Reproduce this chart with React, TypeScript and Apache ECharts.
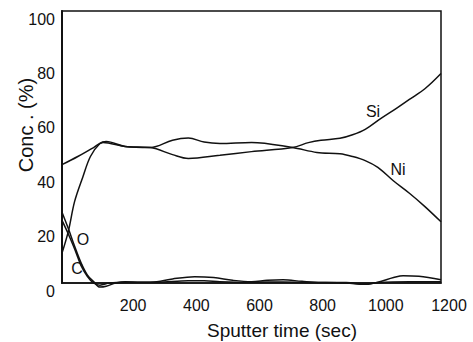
import React, { useEffect, useRef } from "react";
import * as echarts from "echarts";

// Sputter time (sec) -> concentration (%)
const siTime = [0, 50, 100, 130, 200, 280, 350, 400, 500, 600, 730, 780, 820, 880, 920, 960, 1010, 1060, 1100, 1150, 1200];
const siConc = [43.5, 46.5, 49.8, 51.7, 50.2, 49.8, 47.2, 45.8, 47, 48.3, 49.8, 51.6, 52.5, 53.2, 54.5, 56.5, 60.5, 64.3, 67.5, 71.5, 77];

const niTime = [0, 20, 40, 66, 90, 120, 140, 200, 280, 350, 400, 450, 500, 600, 730, 807, 880, 920, 960, 1000, 1050, 1100, 1150, 1200];
const niConc = [11, 19, 30, 39, 46.5, 51.3, 52, 50.2, 49.8, 52.5, 53.3, 51.8, 51.3, 51.7, 49.8, 48, 47.5, 46.5, 45, 42.5, 37.5, 33, 28, 22.5];

const oTime = [0, 20, 40, 60, 80, 100, 120, 140, 170, 200, 250, 300, 350, 420, 480, 540, 600, 650, 700, 760, 820, 900, 960, 1000, 1050, 1080, 1130, 1200];
const oConc = [26, 20, 13.5, 7.5, 3, 0.5, -1.5, -1.2, 0, 0.5, 0.3, 0.5, 1.5, 2.3, 2, 1, 0.5, 1, 1.2, 0.6, 0.2, 0.2, -0.5, 0.3, 2, 2.7, 2.5, 1.2];

const cTime = [0, 20, 40, 60, 80, 100, 120, 150, 200, 300, 400, 450, 500, 600, 700, 800, 900, 960, 1000, 1100, 1200];
const cConc = [23, 18, 12.5, 6.5, 2.5, 0, -0.8, 0, 0.3, 0.3, 0.8, 0.8, 0.5, 0.3, 0.4, 0.2, 0, -0.5, 0.2, 0.5, 0.5];

const xTicks = { min: 0, max: 1200, interval: 200 };
const yTicks = { min: 0, max: 100, interval: 20 };

const xTitle = "Sputter time (sec)";
const yTitle = "Conc . (%)";
const seriesNames = ["Si", "Ni", "O", "C"];

const FONT = "'Liberation Sans', Arial, sans-serif";

function pairs(t: number[], v: number[]) {
  return t.map((x, i) => [x, v[i]]);
}

export default function App() {
  const ref = useRef<HTMLDivElement>(null);
  useEffect(() => {
    if (!ref.current) return;
    const chart = echarts.init(ref.current, undefined, { renderer: "svg" });
    const lineStyle = { color: "#111", width: 1.5 };
    const mk = (name: string, data: number[][]) => ({
      name,
      type: "line",
      data,
      smooth: 0.35,
      showSymbol: false,
      symbol: "none",
      clip: false,
      lineStyle,
      z: 3,
    });
    chart.setOption({
      animation: false,
      backgroundColor: "#fff",
      grid: {
        left: 62,
        right: 32,
        top: 11,
        bottom: 59,
        containLabel: false,
        outerBoundsMode: "none",
        show: true,
        borderColor: "#111",
        borderWidth: 1.5,
        backgroundColor: "transparent",
      },
      xAxis: {
        type: "value",
        min: xTicks.min,
        max: xTicks.max,
        interval: xTicks.interval,
        splitLine: { show: false },
        axisTick: { show: false },
        axisLine: { show: true, lineStyle: { color: "#111", width: 1.5 } },
        axisLabel: {
          showMinLabel: false,
          color: "#111",
          fontFamily: FONT,
          fontSize: 16,
          margin: 14,
          padding: [0, 0, 0, 16],
          formatter: (v: number) => String(v),
        },
      },
      yAxis: {
        type: "value",
        min: yTicks.min,
        max: yTicks.max,
        interval: yTicks.interval,
        splitLine: { show: false },
        axisTick: { show: false },
        axisLine: { show: true, lineStyle: { color: "#111", width: 2 } },
        axisLabel: {
          color: "#111",
          fontFamily: FONT,
          fontSize: 16,
          margin: 7,
          verticalAlign: "top",
          formatter: (v: number) => String(v),
        },
      },
      series: [
        mk(seriesNames[0], pairs(siTime, siConc)),
        mk(seriesNames[1], pairs(niTime, niConc)),
        mk(seriesNames[2], pairs(oTime, oConc)),
        mk(seriesNames[3], pairs(cTime, cConc)),
      ],
      graphic: [
        {
          type: "text",
          x: 282,
          y: 330,
          style: { text: xTitle, font: `19px ${FONT}`, fill: "#111", align: "center", verticalAlign: "middle" },
        },
        {
          type: "text",
          x: 26,
          y: 125,
          rotation: Math.PI / 2,
          style: { text: yTitle, font: `20px ${FONT}`, fill: "#111", align: "center", verticalAlign: "middle" },
        },
        {
          type: "text",
          x: 373,
          y: 111,
          style: { text: seriesNames[0], font: `16px ${FONT}`, fill: "#111", align: "center", verticalAlign: "middle" },
        },
        {
          type: "text",
          x: 398,
          y: 169,
          style: { text: seriesNames[1], font: `16px ${FONT}`, fill: "#111", align: "center", verticalAlign: "middle" },
        },
        {
          type: "text",
          x: 83,
          y: 239,
          style: { text: seriesNames[2], font: `16px ${FONT}`, fill: "#111", align: "center", verticalAlign: "middle" },
        },
        {
          type: "text",
          x: 77,
          y: 268,
          style: { text: seriesNames[3], font: `16px ${FONT}`, fill: "#111", align: "center", verticalAlign: "middle" },
        },
      ],
    });
    return () => chart.dispose();
  }, []);
  return <div ref={ref} style={{ width: 473, height: 342, position: "absolute", left: 0, top: 0 }} />;
}
